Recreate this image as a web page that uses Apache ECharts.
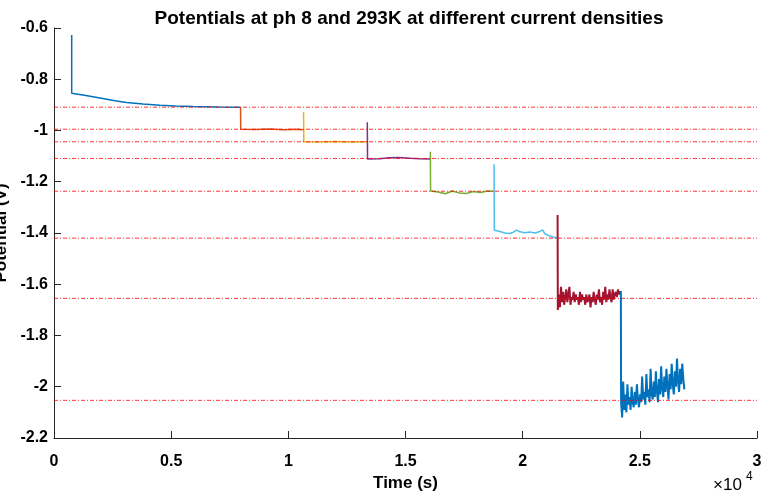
<!DOCTYPE html>
<html>
<head>
<meta charset="utf-8">
<title>Potentials at ph 8 and 293K</title>
<script src="https://cdn.jsdelivr.net/npm/echarts@6/dist/echarts.min.js"></script>
<style>
  html, body { margin: 0; padding: 0; background: #fff; }
  #main { width: 767px; height: 492px; }
</style>
</head>
<body>
<div id="main"></div>
<script>
// 各电流密度段的数据 (time in s, potential in V)
const seg1T = [755, 755, 1300, 1960, 2600, 3100, 3800, 4520, 5200, 5930, 7000, 7950]
const seg1V = [-0.627, -0.855, -0.862, -0.873, -0.884, -0.891, -0.897, -0.901, -0.904, -0.906, -0.908, -0.909]

const seg2T = [7960, 7970, 8600, 9200, 9800, 10300, 10640]
const seg2V = [-0.909, -0.995, -0.996, -0.994, -0.997, -0.995, -0.997]

const seg3T = [10650, 10660, 11300, 12000, 12700, 13350]
const seg3V = [-0.929, -1.044, -1.045, -1.043, -1.045, -1.044]

const seg4T = [13370, 13380, 13900, 14300, 14700, 15200, 15600, 16050]
const seg4V = [-0.968, -1.111, -1.110, -1.106, -1.105, -1.108, -1.110, -1.111]

const seg5T = [16060, 16070, 16400, 16700, 17000, 17300, 17600, 17900, 18200, 18500, 18770]
const seg5V = [-1.083, -1.236, -1.240, -1.247, -1.236, -1.244, -1.246, -1.238, -1.242, -1.236, -1.237]

const seg6T = [18780, 18790, 19031, 19244, 19457, 19600, 19742, 19884, 20097, 20310, 20524, 20737, 20851, 20950, 21164, 21377, 21480]
const seg6V = [-1.132, -1.389, -1.394, -1.400, -1.402, -1.397, -1.389, -1.395, -1.399, -1.396, -1.400, -1.394, -1.388, -1.403, -1.412, -1.418, -1.419]

// 噪声较大的两段：起点、采样间隔、数值
const seg7Spike = [21490, -1.33]
const seg7Start = 21500
const seg7Step = 45
const seg7V = [-1.70, -1.64, -1.69, -1.61, -1.67, -1.63, -1.68, -1.65, -1.62, -1.67,
  -1.64, -1.61, -1.68, -1.65, -1.66, -1.63, -1.67, -1.64, -1.66, -1.65,
  -1.68, -1.63, -1.67, -1.64, -1.66, -1.65, -1.68, -1.64, -1.67, -1.66,
  -1.64, -1.69, -1.65, -1.67, -1.63, -1.66, -1.68, -1.64, -1.66, -1.62,
  -1.67, -1.65, -1.68, -1.63, -1.66, -1.61, -1.67, -1.64, -1.66, -1.62,
  -1.65, -1.67, -1.62, -1.66, -1.64, -1.63, -1.65, -1.62, -1.64, -1.626]

const seg8Spike = [24190, -1.626]
const seg8Start = 24200
const seg8Step = 45
const seg8V = [-2.06, -2.12, -1.98, -2.09, -2.03, -2.10, -1.99, -2.07, -2.04, -2.09,
  -2.00, -2.06, -2.08, -2.02, -2.07, -1.99, -2.05, -2.08, -2.03, -2.06,
  -1.96, -2.05, -2.02, -2.07, -1.95, -2.04, -2.01, -2.06, -1.93, -2.03,
  -2.05, -1.98, -2.04, -1.94, -2.02, -2.06, -1.97, -2.03, -1.92, -2.01,
  -2.04, -1.96, -2.02, -1.93, -2.00, -2.05, -1.95, -2.01, -1.91, -1.99,
  -2.03, -1.94, -2.00, -1.89, -1.98, -2.02, -1.93, -1.99, -1.91, -1.97, -2.01]

// 红色参考线
const refLevels = [-0.909, -0.995, -1.044, -1.109, -1.237, -1.42, -1.655, -2.053]

// MATLAB 默认配色
const segColors = ['#0072BD', '#D95319', '#EDB120', '#7E2F8E', '#77AC30', '#4DBEEE', '#A2142F', '#0072BD']

const xTicks = ['0', '0.5', '1', '1.5', '2', '2.5', '3']
const yTicks = ['-2.2', '-2', '-1.8', '-1.6', '-1.4', '-1.2', '-1', '-0.8', '-0.6']

const zip = (t, v) => t.map((x, i) => [x, v[i]])
const sampled = (spike, start, step, v) => [spike].concat(v.map((y, i) => [start + i * step, y]))

const segData = [
  zip(seg1T, seg1V),
  zip(seg2T, seg2V),
  zip(seg3T, seg3V),
  zip(seg4T, seg4V),
  zip(seg5T, seg5V),
  zip(seg6T, seg6V),
  sampled(seg7Spike, seg7Start, seg7Step, seg7V),
  sampled(seg8Spike, seg8Start, seg8Step, seg8V)
]

const font = 'Liberation Sans, Arial, sans-serif'
const axisColor = '#262626'

const series = []
segData.forEach((d, i) => {
  series.push({
    type: 'line',
    data: d,
    showSymbol: false,
    clip: false,
    z: 2,
    lineStyle: { color: segColors[i], width: i >= 6 ? 2 : 1.5 }
  })
})
refLevels.forEach(lv => {
  series.push({
    type: 'line',
    data: [[0, lv], [30000, lv]],
    showSymbol: false,
    z: 3,
    lineStyle: { color: '#ff0000', width: 1, type: [4, 2, 1, 2], opacity: 0.8 }
  })
})

const chart = echarts.init(document.getElementById('main'), null, { renderer: 'canvas' })
chart.setOption({
  animation: false,
  backgroundColor: '#fff',
  title: {
    text: 'Potentials at ph 8 and 293K at different current densities',
    left: 404,
    textAlign: 'center',
    top: 4,
    textStyle: { fontFamily: font, fontSize: 19, fontWeight: 'bold', color: '#000' }
  },
  grid: { left: 54, right: 10, top: 28, bottom: 54, containLabel: false, outerBoundsMode: 'none' },
  xAxis: {
    type: 'value',
    min: 0,
    max: 30000,
    interval: 5000,
    name: 'Time (s)',
    nameLocation: 'middle',
    nameGap: 35,
    nameTextStyle: { fontFamily: font, fontSize: 17, fontWeight: 'bold', color: '#000' },
    axisLine: { show: true, lineStyle: { color: axisColor, width: 1 } },
    axisTick: { show: true, inside: true, length: 7, lineStyle: { color: axisColor } },
    axisLabel: {
      margin: 16,
      fontFamily: font, fontSize: 16, fontWeight: 'bold', color: '#000',
      formatter: v => xTicks[Math.round(v / 5000)]
    },
    splitLine: { show: false }
  },
  yAxis: {
    type: 'value',
    min: -2.2,
    max: -0.6,
    interval: 0.2,
    name: 'Potential (V)',
    nameLocation: 'middle',
    nameGap: 33,
    nameTextStyle: { fontFamily: font, fontSize: 17, fontWeight: 'bold', color: '#000' },
    axisLine: { show: true, lineStyle: { color: axisColor, width: 1 } },
    axisTick: { show: true, inside: true, length: 7, lineStyle: { color: axisColor } },
    axisLabel: {
      margin: 6,
      fontFamily: font, fontSize: 16, fontWeight: 'bold', color: '#000',
      formatter: v => yTicks[Math.round((v + 2.2) / 0.2)]
    },
    splitLine: { show: false }
  },
  graphic: [
    {
      type: 'text',
      left: 713,
      top: 477,
      style: { text: '×10', fontFamily: font, fontSize: 17, fill: '#000' }
    },
    {
      type: 'text',
      left: 746,
      top: 471,
      style: { text: '4', fontFamily: font, fontSize: 12, fill: '#000' }
    }
  ],
  series: series
})
</script>
</body>
</html>
